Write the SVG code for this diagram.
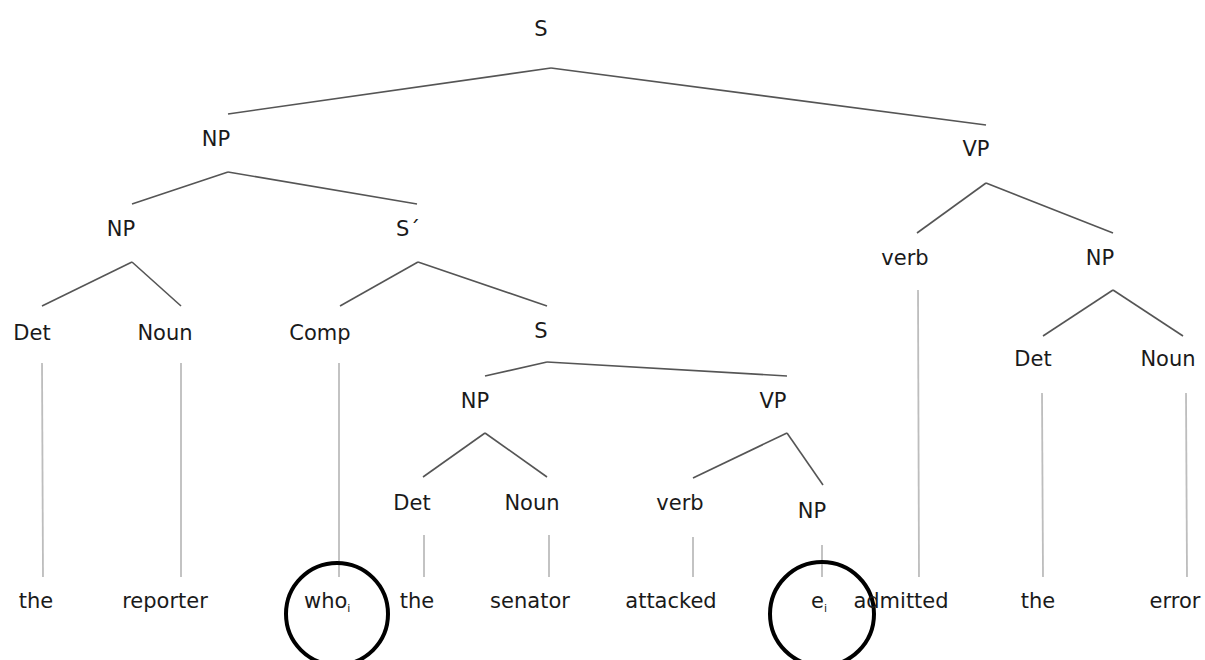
<svg xmlns="http://www.w3.org/2000/svg" width="1205" height="660" viewBox="0 0 1205 660">
<style>
.lbl{font-family:"DejaVu Sans","Liberation Sans",sans-serif;font-size:21px;fill:#1a1a1a;text-anchor:middle}
.st{text-anchor:start}
.sub{font-size:11px;fill:#1a1a1a}
.edge{stroke:#555;stroke-width:1.6;fill:none}
.leaf{stroke:#bdbdbd;stroke-width:1.8;fill:none}
.ring{stroke:#000;stroke-width:4;fill:none}
</style>
<rect width="1205" height="660" fill="#fff"/>
<g id="connectors">
<line class="edge" x1="551" y1="68" x2="228" y2="114"/>
<line class="edge" x1="551" y1="68" x2="986" y2="125"/>
<line class="edge" x1="228" y1="172" x2="132" y2="204"/>
<line class="edge" x1="228" y1="172" x2="417" y2="204"/>
<line class="edge" x1="132" y1="262" x2="42" y2="306"/>
<line class="edge" x1="132" y1="262" x2="181" y2="306"/>
<line class="edge" x1="418" y1="262" x2="340" y2="306"/>
<line class="edge" x1="418" y1="262" x2="547" y2="306"/>
<line class="edge" x1="986" y1="183" x2="917" y2="233"/>
<line class="edge" x1="986" y1="183" x2="1113" y2="233"/>
<line class="edge" x1="1113" y1="290" x2="1043" y2="336"/>
<line class="edge" x1="1113" y1="290" x2="1183" y2="336"/>
<line class="edge" x1="547" y1="362" x2="485" y2="376"/>
<line class="edge" x1="547" y1="362" x2="787" y2="376"/>
<line class="edge" x1="485" y1="433" x2="423" y2="477"/>
<line class="edge" x1="485" y1="433" x2="547" y2="477"/>
<line class="edge" x1="787" y1="433" x2="693" y2="478"/>
<line class="edge" x1="787" y1="433" x2="823" y2="485"/>
<line class="leaf" x1="42" y1="363" x2="43" y2="577"/>
<line class="leaf" x1="181" y1="363" x2="181" y2="577"/>
<line class="leaf" x1="339" y1="363" x2="339" y2="577"/>
<line class="leaf" x1="918" y1="290" x2="919" y2="577"/>
<line class="leaf" x1="1042" y1="393" x2="1043" y2="577"/>
<line class="leaf" x1="1186" y1="393" x2="1187" y2="577"/>
<line class="leaf" x1="424" y1="535" x2="424" y2="577"/>
<line class="leaf" x1="549" y1="535" x2="549" y2="577"/>
<line class="leaf" x1="693" y1="537" x2="693" y2="577"/>
<line class="leaf" x1="822" y1="545" x2="822" y2="577"/>
</g>
<g id="n-S"><text class="lbl" x="541" y="36">S</text></g>
<g id="n-NP1"><text class="lbl" x="216" y="146">NP</text></g>
<g id="n-VP1"><text class="lbl" x="976" y="156">VP</text></g>
<g id="n-NP2"><text class="lbl" x="121" y="236">NP</text></g>
<g id="n-Sbar"><text class="lbl" x="408" y="236">S´</text></g>
<g id="n-verb1"><text class="lbl" x="905" y="265">verb</text></g>
<g id="n-NP3"><text class="lbl" x="1100" y="265">NP</text></g>
<g id="n-Det1"><text class="lbl" x="32" y="340">Det</text></g>
<g id="n-Noun1"><text class="lbl" x="165" y="340">Noun</text></g>
<g id="n-Comp"><text class="lbl" x="320" y="340">Comp</text></g>
<g id="n-S2"><text class="lbl" x="541" y="338">S</text></g>
<g id="n-Det3"><text class="lbl" x="1033" y="366">Det</text></g>
<g id="n-Noun3"><text class="lbl" x="1168" y="366">Noun</text></g>
<g id="n-NP4"><text class="lbl" x="475" y="408">NP</text></g>
<g id="n-VP2"><text class="lbl" x="773" y="408">VP</text></g>
<g id="n-Det2"><text class="lbl" x="412" y="510">Det</text></g>
<g id="n-Noun2"><text class="lbl" x="532" y="510">Noun</text></g>
<g id="n-verb2"><text class="lbl" x="680" y="510">verb</text></g>
<g id="n-NP5"><text class="lbl" x="812" y="518">NP</text></g>
<g id="w-the1"><text class="lbl" x="36" y="608">the</text></g>
<g id="w-reporter"><text class="lbl" x="165" y="608">reporter</text></g>
<g id="w-who"><text class="lbl st" x="304" y="608">who<tspan class="sub" dy="4">i</tspan></text><circle class="ring" cx="337" cy="614" r="51"/></g>
<g id="w-the2"><text class="lbl" x="417" y="608">the</text></g>
<g id="w-senator"><text class="lbl" x="530" y="608">senator</text></g>
<g id="w-attacked"><text class="lbl" x="671" y="608">attacked</text></g>
<g id="w-e"><text class="lbl st" x="811" y="608">e<tspan class="sub" dy="4">i</tspan></text><circle class="ring" cx="822" cy="614" r="52"/></g>
<g id="w-admitted"><text class="lbl" x="901" y="608">admitted</text></g>
<g id="w-the3"><text class="lbl" x="1038" y="608">the</text></g>
<g id="w-error"><text class="lbl" x="1175" y="608">error</text></g>
</svg>
